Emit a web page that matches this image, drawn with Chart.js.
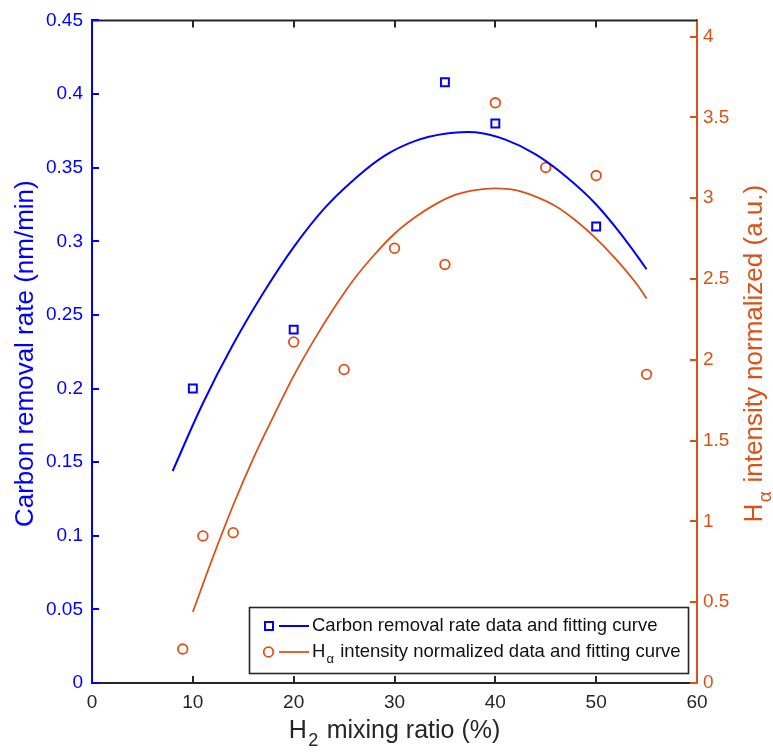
<!DOCTYPE html>
<html>
<head>
<meta charset="utf-8">
<script src="https://cdn.jsdelivr.net/npm/chart.js@4.4.0/dist/chart.umd.min.js"></script>
<style>
  html, body { margin: 0; padding: 0; background: #ffffff; }
  #wrap { width: 773px; height: 756px; position: relative; }
</style>
</head>
<body>
<div id="wrap"><canvas id="c" width="773" height="756"></canvas></div>
<script>
// Measured carbon removal rate (nm/min) vs H2 mixing ratio (%)
const mixRatioRate = [10, 20, 35, 40, 50];
const removalRate = [0.200, 0.240, 0.408, 0.380, 0.310];

// Normalized H-alpha emission intensity (a.u.) vs H2 mixing ratio (%)
const mixRatioHa = [9, 11, 14, 20, 25, 30, 35, 40, 45, 50, 55];
const haIntensity = [0.21, 0.91, 0.93, 2.11, 1.94, 2.69, 2.59, 3.59, 3.19, 3.14, 1.91];

// Fitting curve samples for the removal rate
const rateFitX = [8, 11, 14, 17, 20, 23, 26, 29, 32, 35, 38, 41, 44, 47, 50, 53, 55];
const rateFitY = [0.144, 0.190, 0.230, 0.265, 0.296, 0.322, 0.342, 0.358, 0.368, 0.373, 0.374, 0.369, 0.359, 0.344, 0.325, 0.300, 0.281];

// Fitting curve samples for the H-alpha intensity
const haFitX = [10, 12, 14, 16, 18, 20, 22, 24, 26, 28, 30, 32, 34, 36, 38, 40, 42, 44, 46, 48, 50, 52, 54, 55];
const haFitY = [0.44, 0.78, 1.10, 1.39, 1.65, 1.90, 2.12, 2.32, 2.50, 2.65, 2.78, 2.88, 2.96, 3.02, 3.05, 3.06, 3.05, 3.01, 2.95, 2.86, 2.75, 2.62, 2.47, 2.38];

// Axis ticks
const xTicks = [0, 10, 20, 30, 40, 50, 60];
const xTickLabels = ['0', '10', '20', '30', '40', '50', '60'];
const leftTicks = [0, 0.05, 0.1, 0.15, 0.2, 0.25, 0.3, 0.35, 0.4, 0.45];
const leftTickLabels = ['0', '0.05', '0.1', '0.15', '0.2', '0.25', '0.3', '0.35', '0.4', '0.45'];
const rightTicks = [0, 0.5, 1, 1.5, 2, 2.5, 3, 3.5, 4];
const rightTickLabels = ['0', '0.5', '1', '1.5', '2', '2.5', '3', '3.5', '4'];

const BLUE = '#0000ff';
const ORANGE = '#d95319';
const DARK = '#262626';
const FONT = '"Liberation Sans", Arial, Helvetica, sans-serif';

const toPts = (xs, ys) => xs.map((x, i) => ({ x: x, y: ys[i] }));

function fixedTicks(values) {
  return function (scale) { scale.ticks = values.map(v => ({ value: v })); };
}
function labelFrom(values, labels) {
  return function (value) {
    const i = values.findIndex(v => Math.abs(v - value) < 1e-9);
    return i >= 0 ? labels[i] : '';
  };
}

// Text with subscripted parts; parts = [[text, isSub], ...]
function measureRich(ctx, parts, size) {
  let w = 0;
  for (const [t, sub] of parts) {
    ctx.font = (sub ? Math.round(size * 0.72) : size) + 'px ' + FONT;
    w += ctx.measureText(t).width + (sub ? size * 0.12 : 0);
  }
  return w;
}
function drawRich(ctx, parts, x, y, size) {
  let cx = x;
  for (const [t, sub] of parts) {
    if (sub) {
      ctx.font = Math.round(size * 0.72) + 'px ' + FONT;
      cx += size * 0.06;
      ctx.fillText(t, cx, y + size * 0.42);
      cx += ctx.measureText(t).width + size * 0.06;
    } else {
      ctx.font = size + 'px ' + FONT;
      ctx.fillText(t, cx, y);
      cx += ctx.measureText(t).width;
    }
  }
}

const framePlugin = {
  id: 'frame',
  afterDraw(chart) {
    const ctx = chart.ctx;
    const a = chart.chartArea;
    const xs = chart.scales.x, yl = chart.scales.y, yr = chart.scales.y1;
    const tick = 7;
    ctx.save();
    ctx.lineCap = 'butt';

    // top edge of the box
    ctx.strokeStyle = DARK;
    ctx.lineWidth = 2;
    ctx.beginPath();
    ctx.moveTo(a.left, a.top);
    ctx.lineTo(a.right, a.top);
    ctx.stroke();

    // inward x ticks, bottom and top
    ctx.lineWidth = 2;
    ctx.beginPath();
    for (const v of xTicks) {
      const px = Math.round(xs.getPixelForValue(v));
      if (px <= a.left + 1 || px >= a.right - 1) continue;
      ctx.moveTo(px, a.bottom); ctx.lineTo(px, a.bottom - tick);
      ctx.moveTo(px, a.top); ctx.lineTo(px, a.top + tick);
    }
    ctx.stroke();

    // inward left ticks
    ctx.strokeStyle = BLUE;
    ctx.beginPath();
    for (const v of leftTicks) {
      const py = Math.round(yl.getPixelForValue(v));
      ctx.moveTo(a.left, py); ctx.lineTo(a.left + tick, py);
    }
    ctx.stroke();

    // inward right ticks
    ctx.strokeStyle = ORANGE;
    ctx.beginPath();
    for (const v of rightTicks) {
      const py = Math.round(yr.getPixelForValue(v));
      ctx.moveTo(a.right, py); ctx.lineTo(a.right - tick, py);
    }
    ctx.stroke();

    // axis titles
    const tsz = 26;
    ctx.textBaseline = 'middle';
    ctx.textAlign = 'left';
    const midY = (a.top + a.bottom) / 2 + 2;

    // x title
    ctx.fillStyle = DARK;
    const xParts = [['H', false], ['2', true], [' mixing ratio (%)', false]];
    const xw = measureRich(ctx, xParts, 25);
    drawRich(ctx, xParts, (a.left + a.right) / 2 - xw / 2, 731, 25);

    // left title
    ctx.fillStyle = BLUE;
    const lParts = [['Carbon removal rate (nm/min)', false]];
    const lw = measureRich(ctx, lParts, tsz);
    ctx.save();
    ctx.translate(26, midY);
    ctx.rotate(-Math.PI / 2);
    drawRich(ctx, lParts, -lw / 2, 0, tsz);
    ctx.restore();

    // right title
    ctx.fillStyle = ORANGE;
    const rParts = [['H', false], ['\u03b1', true], [' intensity normalized (a.u.)', false]];
    const rw = measureRich(ctx, rParts, tsz);
    ctx.save();
    ctx.translate(755, midY);
    ctx.rotate(-Math.PI / 2);
    drawRich(ctx, rParts, -rw / 2, 0, tsz);
    ctx.restore();

    // legend box
    const bx = a.left + 157, by = a.bottom - 76, bw = 439, bh = 66;
    ctx.fillStyle = '#ffffff';
    ctx.fillRect(bx, by, bw, bh);
    ctx.strokeStyle = DARK;
    ctx.lineWidth = 1.6;
    ctx.strokeRect(bx + 0.5, by + 0.5, bw, bh);

    const lsz = 18.5;
    const row1 = by + 19, row2 = by + 45;
    // entry 1: square + line
    ctx.strokeStyle = BLUE;
    ctx.lineWidth = 2;
    ctx.strokeRect(bx + 16, row1 - 4, 8, 8);
    ctx.beginPath();
    ctx.moveTo(bx + 30, row1); ctx.lineTo(bx + 60, row1);
    ctx.stroke();
    // entry 2: circle + line
    ctx.strokeStyle = ORANGE;
    ctx.lineWidth = 1.8;
    ctx.beginPath();
    ctx.arc(bx + 19.5, row2, 4.8, 0, Math.PI * 2);
    ctx.stroke();
    ctx.beginPath();
    ctx.moveTo(bx + 30, row2); ctx.lineTo(bx + 60, row2);
    ctx.stroke();

    ctx.fillStyle = '#111111';
    ctx.textBaseline = 'middle';
    drawRich(ctx, [['Carbon removal rate data and fitting curve', false]], bx + 63, row1, lsz);
    drawRich(ctx, [['H', false], ['\u03b1', true], [' intensity normalized data and fitting curve', false]], bx + 63, row2, lsz);

    ctx.restore();
  }
};

const tickFont = { family: FONT, size: 19 };

new Chart(document.getElementById('c'), {
  type: 'line',
  data: {
    datasets: [
      {
        label: 'Carbon removal rate fitting curve',
        data: toPts(rateFitX, rateFitY),
        yAxisID: 'y',
        borderColor: BLUE,
        borderWidth: 2,
        pointRadius: 0,
        tension: 0.4,
        fill: false
      },
      {
        label: 'H\u03b1 intensity fitting curve',
        data: toPts(haFitX, haFitY),
        yAxisID: 'y1',
        borderColor: ORANGE,
        borderWidth: 1.8,
        pointRadius: 0,
        cubicInterpolationMode: 'monotone',
        fill: false
      },
      {
        label: 'Carbon removal rate data',
        data: toPts(mixRatioRate, removalRate),
        yAxisID: 'y',
        showLine: false,
        pointStyle: 'rect',
        pointRadius: 5.6,
        pointBorderWidth: 2,
        pointBorderColor: BLUE,
        pointBackgroundColor: 'rgba(0,0,0,0)'
      },
      {
        label: 'H\u03b1 intensity normalized data',
        data: toPts(mixRatioHa, haIntensity),
        yAxisID: 'y1',
        showLine: false,
        pointStyle: 'circle',
        pointRadius: 4.8,
        pointBorderWidth: 1.8,
        pointBorderColor: ORANGE,
        pointBackgroundColor: 'rgba(0,0,0,0)'
      }
    ]
  },
  options: {
    responsive: false,
    animation: false,
    events: [],
    layout: { padding: { top: 20, left: 0, right: 0, bottom: 0 } },
    plugins: {
      legend: { display: false },
      tooltip: { enabled: false },
      title: { display: false }
    },
    scales: {
      x: {
        type: 'linear',
        min: 0,
        max: 60,
        afterBuildTicks: fixedTicks(xTicks),
        afterFit(scale) { scale.height = 73; },
        grid: { display: false, drawTicks: false },
        border: { display: true, color: DARK, width: 2 },
        ticks: {
          color: DARK,
          font: tickFont,
          padding: 8,
          maxRotation: 0,
          autoSkip: false,
          callback: labelFrom(xTicks, xTickLabels)
        }
      },
      y: {
        type: 'linear',
        position: 'left',
        min: 0,
        max: 0.45,
        afterBuildTicks: fixedTicks(leftTicks),
        afterFit(scale) { scale.width = 92; },
        grid: { display: false, drawTicks: false },
        border: { display: true, color: BLUE, width: 2 },
        ticks: {
          color: BLUE,
          font: tickFont,
          padding: 9,
          autoSkip: false,
          callback: labelFrom(leftTicks, leftTickLabels)
        }
      },
      y1: {
        type: 'linear',
        position: 'right',
        min: 0,
        max: 4.1,
        afterBuildTicks: fixedTicks(rightTicks),
        afterFit(scale) { scale.width = 76; },
        grid: { display: false, drawTicks: false },
        border: { display: true, color: ORANGE, width: 2 },
        ticks: {
          color: ORANGE,
          font: tickFont,
          padding: 6,
          autoSkip: false,
          callback: labelFrom(rightTicks, rightTickLabels)
        }
      }
    }
  },
  plugins: [framePlugin]
});
</script>
</body>
</html>
